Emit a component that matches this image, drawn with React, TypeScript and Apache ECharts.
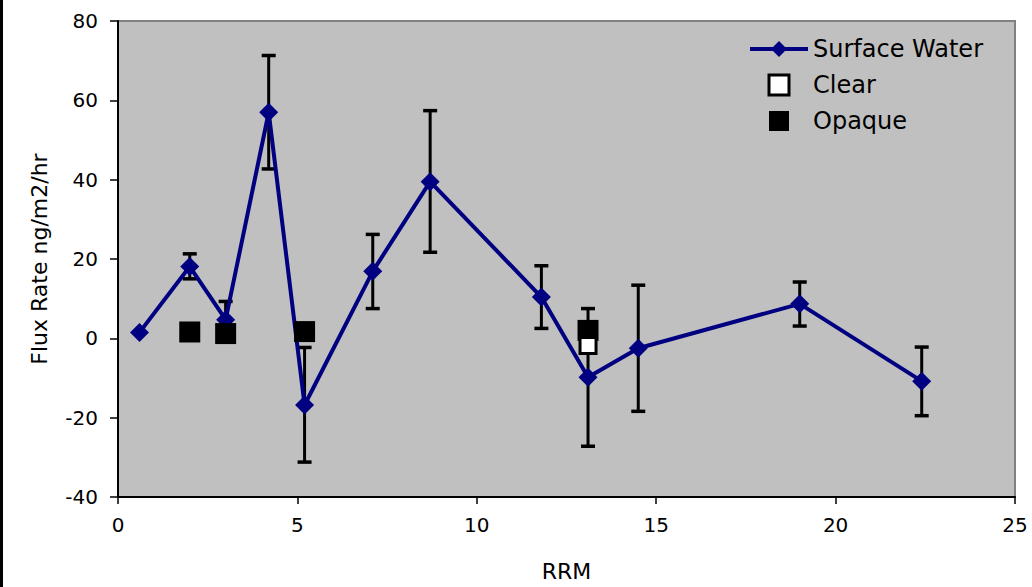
import React, { useEffect, useRef } from "react";
import * as echarts from "echarts";

const rrm = [0.6, 2.0, 3.0, 4.2, 5.2, 7.1, 8.7, 11.8, 13.1, 14.5, 19.0, 22.4];
const flux = [1.5, 18.1, 4.7, 57.0, -16.8, 16.9, 39.5, 10.4, -9.8, -2.5, 8.7, -10.8];
const errHigh = [1.5, 21.3, 9.3, 71.3, -2.3, 26.2, 57.4, 18.3, 7.5, 13.4, 14.2, -2.2];
const errLow = [1.5, 15.0, 0.1, 42.7, -31.2, 7.5, 21.7, 2.5, -27.2, -18.4, 3.1, -19.5];

const clearX = [13.1];
const clearY = [-1.8];
const opaqueX = [2.0, 3.0, 5.2, 13.1];
const opaqueY = [1.6, 1.2, 1.7, 2.0];

const xTicks = { min: 0, max: 25, interval: 5 };
const yTicks = { min: -40, max: 80, interval: 20 };

const FONT = "DejaVu Sans, Verdana, sans-serif";
const SQUARE = "path://M0,0H10V10H0Z";

export default function App() {
  const ref = useRef<HTMLDivElement>(null);
  useEffect(() => {
    document.body.style.margin = "0";
    const chart = echarts.init(ref.current!, null, { renderer: "svg" });
    const errData = rrm.map((x, i) => [x, errLow[i], errHigh[i]]);
    chart.setOption({
      animation: false,
      backgroundColor: "#ffffff",
      textStyle: { fontFamily: FONT },
      grid: {
        left: 118,
        right: 17,
        top: 21,
        bottom: 90,
        show: true,
        backgroundColor: "#c0c0c0",
        borderColor: "#808080",
        borderWidth: 2,
      },
      graphic: [
        { type: "rect", left: 0, top: 0, shape: { width: 3, height: 587 }, style: { fill: "#000" } },
      ],
      legend: {
        orient: "vertical",
        left: 743,
        top: 32,
        itemWidth: 58,
        itemHeight: 20,
        itemGap: 12,
        symbolKeepAspect: true,
        textStyle: { fontSize: 24, color: "#000", fontFamily: FONT },
        data: [
          { name: "Surface Water", lineStyle: { width: 4, color: "#000080" } },
          { name: "Clear", icon: SQUARE, itemStyle: { color: "#fff", borderColor: "#000", borderWidth: 3 } },
          { name: "Opaque", icon: SQUARE, itemStyle: { color: "#000" } },
        ],
      },
      xAxis: {
        type: "value",
        min: xTicks.min,
        max: xTicks.max,
        interval: xTicks.interval,
        name: "RRM",
        nameLocation: "middle",
        nameGap: 63,
        nameTextStyle: { fontSize: 22, color: "#000", fontFamily: FONT },
        axisLine: { show: true, onZero: false, lineStyle: { color: "#000", width: 2 } },
        axisTick: { show: true, length: 7, lineStyle: { color: "#000", width: 1.5 } },
        axisLabel: { fontSize: 20, color: "#000", margin: 18, fontFamily: FONT },
        splitLine: { show: false },
      },
      yAxis: {
        type: "value",
        min: yTicks.min,
        max: yTicks.max,
        interval: yTicks.interval,
        name: "Flux Rate ng/m2/hr",
        nameLocation: "middle",
        nameGap: 68,
        nameTextStyle: { fontSize: 22, color: "#000", fontFamily: FONT },
        axisLine: { show: true, onZero: false, lineStyle: { color: "#000", width: 2 } },
        axisTick: { show: true, length: 8, lineStyle: { color: "#000", width: 1.5 } },
        axisLabel: { fontSize: 20, color: "#000", margin: 20, fontFamily: FONT },
        splitLine: { show: false },
      },
      series: [
        {
          type: "custom",
          name: "errors",
          z: 1,
          silent: true,
          data: errData,
          renderItem: (params: any, api: any) => {
            const x = api.value(0);
            const lo = api.value(1);
            const hi = api.value(2);
            if (lo === hi) return null;
            const pLo = api.coord([x, lo]);
            const pHi = api.coord([x, hi]);
            const hw = 7;
            const style = { stroke: "#000", lineWidth: 3 };
            return {
              type: "group",
              children: [
                { type: "line", shape: { x1: pLo[0], y1: pLo[1], x2: pHi[0], y2: pHi[1] }, style },
                { type: "line", shape: { x1: pLo[0] - hw, y1: pLo[1], x2: pLo[0] + hw, y2: pLo[1] }, style: { stroke: "#000", lineWidth: 3.5 } },
                { type: "line", shape: { x1: pHi[0] - hw, y1: pHi[1], x2: pHi[0] + hw, y2: pHi[1] }, style: { stroke: "#000", lineWidth: 3.5 } },
              ],
            };
          },
        },
        {
          type: "line",
          name: "Surface Water",
          z: 3,
          data: rrm.map((x, i) => [x, flux[i]]),
          symbol: "diamond",
          symbolSize: 19,
          lineStyle: { color: "#000080", width: 4 },
          itemStyle: { color: "#000080" },
        },
        {
          type: "scatter",
          name: "Opaque",
          z: 4,
          data: opaqueX.map((x, i) => [x, opaqueY[i]]),
          symbol: "rect",
          symbolSize: 21,
          itemStyle: { color: "#000", opacity: 1 },
        },
        {
          type: "scatter",
          name: "Clear",
          z: 5,
          data: clearX.map((x, i) => [x, clearY[i]]),
          symbol: "rect",
          symbolSize: 16,
          itemStyle: { color: "#fff", borderColor: "#000", borderWidth: 3, opacity: 1 },
        },
      ],
    });
    return () => chart.dispose();
  }, []);
  return <div ref={ref} style={{ width: 1032, height: 587 }} />;
}
